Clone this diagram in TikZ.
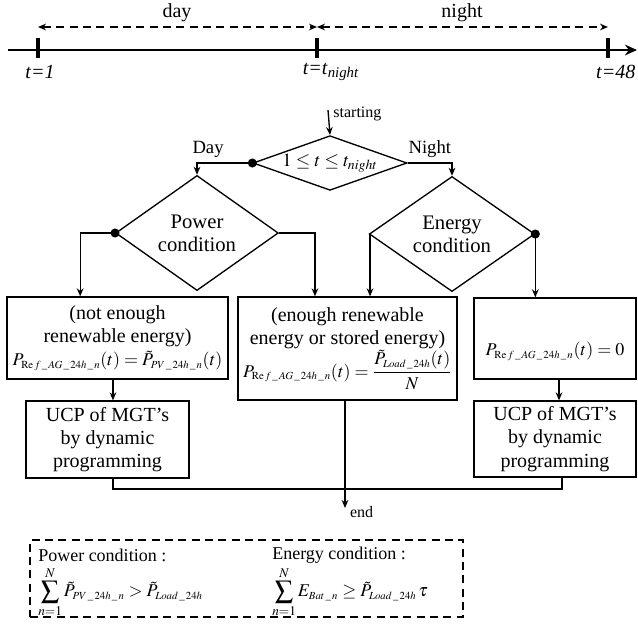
\documentclass[tikz,border=0pt]{standalone}
\usepackage{amsmath}
\usepackage{mathptmx}
\usepackage[no-math]{fontspec}
\setmainfont{Liberation Serif}
\usetikzlibrary{shapes.geometric,arrows.meta}

\newcommand{\refsub}{{\scriptscriptstyle\mathrm{Re}\,f\,\_\,AG\,\_\,24h\,\_\,n}}
\newcommand{\loadsub}{{\scriptscriptstyle Load\,\_\,24h}}
\newcommand{\pvsub}{{\scriptscriptstyle PV\,\_\,24h\,\_\,n}}
\newcommand{\eqsize}{\fontsize{13.5}{17.5}\selectfont}

\begin{document}
\begin{tikzpicture}[x=0.75pt,y=-0.75pt,
    box/.style={draw,line width=1pt,align=center,inner sep=0pt,font=\fontsize{15}{17.5}\selectfont},
    cond/.style={draw,diamond,line width=1pt,align=center,inner sep=0pt,font=\fontsize{15.5}{17.5}\selectfont},
    arr/.style={line width=1pt,-{Stealth[length=6pt,width=5pt]}},
    lbl/.style={font=\fontsize{12}{14}\selectfont},
    tl/.style={font=\fontsize{15}{18}\selectfont},
    legtxt/.style={font=\fontsize{13.5}{16}\selectfont,inner sep=0pt}]
\useasboundingbox (0,0) rectangle (638,626);
% time axis
            \coordinate (ax0) at (8,50);
            \coordinate (ax1) at (637,50);
            \coordinate (tA) at (38,50);
            \coordinate (tB) at (317,50);
            \coordinate (tC) at (608,50);
            \draw[line width=2.2pt,-{Stealth[length=9pt,width=8pt]}] (ax0)--(ax1);
            \draw[line width=2.4pt] ([yshift=9pt]tA)--([yshift=-6pt]tA);
            \draw[line width=2.4pt] ([yshift=9pt]tB)--([yshift=-6pt]tB);
            \draw[line width=2.4pt] ([yshift=9pt]tC)--([yshift=-6pt]tC);
            \draw[line width=1.1pt,dash pattern=on 6pt off 4pt,{Stealth[length=6pt,width=5pt]}-{Stealth[length=6pt,width=5pt]}] ([yshift=17.25pt]tA)--([yshift=17.25pt]tB);
            \draw[line width=1.1pt,dash pattern=on 6pt off 4pt,{Stealth[length=6pt,width=5pt]}-{Stealth[length=6pt,width=5pt]}] ([yshift=17.25pt]tB)--([yshift=17.25pt]tC);
            \node[tl] (day) at (177,13) {day};
            \node[tl] (night) at (462,13) {night};
            \node[tl] (lab1) at (40,72) {\textit{t=1}};
            \node[tl] (labn) at (331,72) {\textit{t=t}\textsubscript{\textit{night}}};
            \node[tl,anchor=east] (lab48) at (640,72) {\textit{t=48}};
% flow chart
            \node[cond,minimum width=115.5pt,minimum height=41pt,aspect=2.8,font=\fontsize{14}{17}\selectfont] (test) at (330,163) {$1\le t\le t_{night}$};
            \node[cond,minimum width=122pt,minimum height=54pt] (power) at (197,233) {Power\\condition};
            \node[cond,minimum width=124pt,minimum height=58.5pt] (energy) at (452,234) {Energy\\condition};
            \node[box,minimum width=165.75pt,minimum height=61.5pt] (short) at (117.5,338) {(not enough\\renewable energy)\\{\eqsize$P_{\refsub}(t)=\tilde{P}_{\pvsub}(t)$}};
            \node[box,minimum width=164.25pt,minimum height=77.25pt] (enough) at (347.5,348.5) {(enough renewable\\energy or stored energy)\\{\eqsize$P_{\refsub}(t)=\dfrac{\tilde{P}_{\loadsub}(t)}{N}$}};
            \node[box,minimum width=121.5pt,minimum height=60.75pt] (zero) at (555,338.5) {\strut\\{\eqsize$P_{\refsub}(t)=0$}};
            \node[box,minimum width=122.25pt,minimum height=57.75pt] (ucpL) at (107.5,439.5) {UCP of MGT's\\by dynamic\\programming};
            \node[box,minimum width=121.5pt,minimum height=57pt] (ucpR) at (555,439) {UCP of MGT's\\by dynamic\\programming};
            \coordinate (begin) at (328,110);
            \coordinate (join) at (345,489);
            \coordinate (stop) at (345,508);
            \draw[arr] (begin)--(test.north) node[pos=0.15,right,lbl] {starting};
            \draw[arr] (test.west) -| (power.north) node[pos=0.4,above,font=\fontsize{14}{17}\selectfont] {Day};
            \draw[arr] (test.east) -| (energy.north) node[pos=0.25,above,font=\fontsize{14}{17}\selectfont] {Night};
            \draw[arr] (power.west) -| ([xshift=-28pt]short.north);
            \draw[arr] (power.east) -| ([xshift=-24.4pt]enough.north);
            \draw[arr] (energy.west) -| ([xshift=16.9pt]enough.north);
            \draw[arr] (energy.east)--(energy.east |- zero.north);
            \draw[arr] ([xshift=-3.4pt]short.south)--([xshift=-3.4pt]short.south |- ucpL.north);
            \draw[arr] ([xshift=3pt]zero.south)--([xshift=3pt]zero.south |- ucpR.north);
            \draw[line width=1pt] ([xshift=4.1pt]ucpL.south) |- (join) -| ([xshift=5.25pt]ucpR.south);
            \draw[arr] (enough.south -| stop)--(stop) node[right,lbl,yshift=-3pt] {end};
            \fill (test.west) circle (3.4pt);
            \fill (power.west) circle (3.4pt);
            \fill (energy.east) circle (3.4pt);
% conditions
            \node[draw,line width=0.9pt,dash pattern=on 6pt off 4pt,minimum width=324.75pt,minimum height=57.75pt] (legend) at (246.5,578.5) {};
            \node[legtxt,anchor=west] (pc) at (38,555) {Power condition :};
            \node[legtxt,anchor=west] (pf) at (38,592) {$\displaystyle\sum_{n=1}^{N}\tilde{P}_{\pvsub} > \tilde{P}_{\loadsub}$};
            \node[legtxt,anchor=west] (ec) at (272,555) {Energy condition :};
            \node[legtxt,anchor=west] (ef) at (272,592) {$\displaystyle\sum_{n=1}^{N}E_{\scriptscriptstyle Bat\,\_\,n}\ge\tilde{P}_{\loadsub}\,\tau$};
\end{tikzpicture}
\end{document}
